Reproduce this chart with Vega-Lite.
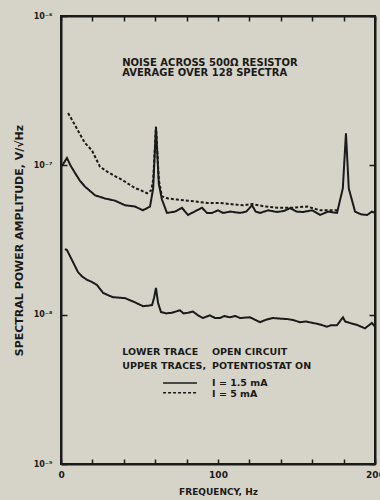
{
  "$schema": "https://vega.github.io/schema/vega-lite/v6.json",
  "width": 314,
  "height": 448,
  "autosize": {"type": "none"},
  "padding": {"left": 61, "top": 16, "right": 5, "bottom": 36},
  "background": "#d6d4c8",
  "config": {
    "view": {"stroke": "#1a1a1a", "strokeWidth": 2},
    "font": "DejaVu Sans",
    "axis": {"domainColor": "#1a1a1a", "domainWidth": 2, "tickColor": "#1a1a1a", "tickWidth": 1.5, "labelColor": "#1a1a1a", "titleColor": "#1a1a1a", "labelFont": "DejaVu Sans", "titleFont": "DejaVu Sans", "labelFontWeight": "bold", "titleFontWeight": "bold", "grid": false}
  },
  "datasets": {
    "traces": [
      {"f": 0.6, "v": 9.9e-8, "trace": "I=1.5 mA"},
      {"f": 3.8, "v": 1.12e-7, "trace": "I=1.5 mA"},
      {"f": 6, "v": 1.0e-7, "trace": "I=1.5 mA"},
      {"f": 8.9, "v": 8.9e-8, "trace": "I=1.5 mA"},
      {"f": 12, "v": 7.9e-8, "trace": "I=1.5 mA"},
      {"f": 15.3, "v": 7.2e-8, "trace": "I=1.5 mA"},
      {"f": 21.7, "v": 6.3e-8, "trace": "I=1.5 mA"},
      {"f": 28, "v": 6.0e-8, "trace": "I=1.5 mA"},
      {"f": 34.4, "v": 5.8e-8, "trace": "I=1.5 mA"},
      {"f": 40.8, "v": 5.4e-8, "trace": "I=1.5 mA"},
      {"f": 47.1, "v": 5.3e-8, "trace": "I=1.5 mA"},
      {"f": 52.2, "v": 5.0e-8, "trace": "I=1.5 mA"},
      {"f": 56.7, "v": 5.3e-8, "trace": "I=1.5 mA"},
      {"f": 58.7, "v": 7.0e-8, "trace": "I=1.5 mA"},
      {"f": 60.5, "v": 1.81e-7, "trace": "I=1.5 mA"},
      {"f": 62.3, "v": 7.5e-8, "trace": "I=1.5 mA"},
      {"f": 64.3, "v": 5.9e-8, "trace": "I=1.5 mA"},
      {"f": 67.5, "v": 4.8e-8, "trace": "I=1.5 mA"},
      {"f": 72.6, "v": 4.9e-8, "trace": "I=1.5 mA"},
      {"f": 77, "v": 5.2e-8, "trace": "I=1.5 mA"},
      {"f": 80.9, "v": 4.65e-8, "trace": "I=1.5 mA"},
      {"f": 85, "v": 4.9e-8, "trace": "I=1.5 mA"},
      {"f": 89.8, "v": 5.2e-8, "trace": "I=1.5 mA"},
      {"f": 93, "v": 4.8e-8, "trace": "I=1.5 mA"},
      {"f": 96.2, "v": 4.8e-8, "trace": "I=1.5 mA"},
      {"f": 100, "v": 5.0e-8, "trace": "I=1.5 mA"},
      {"f": 103.2, "v": 4.8e-8, "trace": "I=1.5 mA"},
      {"f": 108, "v": 4.9e-8, "trace": "I=1.5 mA"},
      {"f": 114, "v": 4.8e-8, "trace": "I=1.5 mA"},
      {"f": 118, "v": 4.9e-8, "trace": "I=1.5 mA"},
      {"f": 121.7, "v": 5.4e-8, "trace": "I=1.5 mA"},
      {"f": 124, "v": 4.9e-8, "trace": "I=1.5 mA"},
      {"f": 126.8, "v": 4.8e-8, "trace": "I=1.5 mA"},
      {"f": 132, "v": 5.0e-8, "trace": "I=1.5 mA"},
      {"f": 137.6, "v": 4.87e-8, "trace": "I=1.5 mA"},
      {"f": 142, "v": 4.95e-8, "trace": "I=1.5 mA"},
      {"f": 145.9, "v": 5.17e-8, "trace": "I=1.5 mA"},
      {"f": 150, "v": 4.9e-8, "trace": "I=1.5 mA"},
      {"f": 154.1, "v": 4.87e-8, "trace": "I=1.5 mA"},
      {"f": 160, "v": 5.0e-8, "trace": "I=1.5 mA"},
      {"f": 165, "v": 4.65e-8, "trace": "I=1.5 mA"},
      {"f": 170, "v": 4.9e-8, "trace": "I=1.5 mA"},
      {"f": 175.8, "v": 4.8e-8, "trace": "I=1.5 mA"},
      {"f": 179.5, "v": 7.0e-8, "trace": "I=1.5 mA"},
      {"f": 181.5, "v": 1.64e-7, "trace": "I=1.5 mA"},
      {"f": 183.3, "v": 7.0e-8, "trace": "I=1.5 mA"},
      {"f": 187.3, "v": 4.9e-8, "trace": "I=1.5 mA"},
      {"f": 191, "v": 4.7e-8, "trace": "I=1.5 mA"},
      {"f": 195, "v": 4.65e-8, "trace": "I=1.5 mA"},
      {"f": 198, "v": 4.9e-8, "trace": "I=1.5 mA"},
      {"f": 200, "v": 4.8e-8, "trace": "I=1.5 mA"},

      {"f": 4.5, "v": 2.24e-7, "trace": "I=5 mA"},
      {"f": 8.9, "v": 1.86e-7, "trace": "I=5 mA"},
      {"f": 12, "v": 1.62e-7, "trace": "I=5 mA"},
      {"f": 15.3, "v": 1.41e-7, "trace": "I=5 mA"},
      {"f": 19.7, "v": 1.26e-7, "trace": "I=5 mA"},
      {"f": 24.8, "v": 9.8e-8, "trace": "I=5 mA"},
      {"f": 29.9, "v": 9.0e-8, "trace": "I=5 mA"},
      {"f": 34, "v": 8.5e-8, "trace": "I=5 mA"},
      {"f": 38.9, "v": 8.0e-8, "trace": "I=5 mA"},
      {"f": 43, "v": 7.5e-8, "trace": "I=5 mA"},
      {"f": 47.1, "v": 7.05e-8, "trace": "I=5 mA"},
      {"f": 51, "v": 6.8e-8, "trace": "I=5 mA"},
      {"f": 54.8, "v": 6.5e-8, "trace": "I=5 mA"},
      {"f": 57.5, "v": 6.8e-8, "trace": "I=5 mA"},
      {"f": 58.7, "v": 8.0e-8, "trace": "I=5 mA"},
      {"f": 60.5, "v": 1.81e-7, "trace": "I=5 mA"},
      {"f": 62.3, "v": 8.0e-8, "trace": "I=5 mA"},
      {"f": 64.3, "v": 6.2e-8, "trace": "I=5 mA"},
      {"f": 68.2, "v": 6.0e-8, "trace": "I=5 mA"},
      {"f": 74, "v": 5.9e-8, "trace": "I=5 mA"},
      {"f": 80.9, "v": 5.8e-8, "trace": "I=5 mA"},
      {"f": 87, "v": 5.7e-8, "trace": "I=5 mA"},
      {"f": 93.6, "v": 5.6e-8, "trace": "I=5 mA"},
      {"f": 101.3, "v": 5.6e-8, "trace": "I=5 mA"},
      {"f": 108, "v": 5.5e-8, "trace": "I=5 mA"},
      {"f": 115.9, "v": 5.4e-8, "trace": "I=5 mA"},
      {"f": 122, "v": 5.5e-8, "trace": "I=5 mA"},
      {"f": 130, "v": 5.3e-8, "trace": "I=5 mA"},
      {"f": 137.6, "v": 5.2e-8, "trace": "I=5 mA"},
      {"f": 147, "v": 5.2e-8, "trace": "I=5 mA"},
      {"f": 156.7, "v": 5.3e-8, "trace": "I=5 mA"},
      {"f": 165, "v": 5.0e-8, "trace": "I=5 mA"},
      {"f": 172, "v": 5.0e-8, "trace": "I=5 mA"},
      {"f": 177, "v": 5.0e-8, "trace": "I=5 mA"},

      {"f": 2.5, "v": 2.75e-8, "trace": "lower"},
      {"f": 3.8, "v": 2.71e-8, "trace": "lower"},
      {"f": 7.0, "v": 2.32e-8, "trace": "lower"},
      {"f": 10.8, "v": 1.93e-8, "trace": "lower"},
      {"f": 13.5, "v": 1.8e-8, "trace": "lower"},
      {"f": 16.6, "v": 1.71e-8, "trace": "lower"},
      {"f": 19.5, "v": 1.66e-8, "trace": "lower"},
      {"f": 22.9, "v": 1.58e-8, "trace": "lower"},
      {"f": 26.8, "v": 1.40e-8, "trace": "lower"},
      {"f": 30, "v": 1.35e-8, "trace": "lower"},
      {"f": 33.1, "v": 1.31e-8, "trace": "lower"},
      {"f": 40.8, "v": 1.29e-8, "trace": "lower"},
      {"f": 47.1, "v": 1.21e-8, "trace": "lower"},
      {"f": 52.2, "v": 1.14e-8, "trace": "lower"},
      {"f": 56, "v": 1.15e-8, "trace": "lower"},
      {"f": 58, "v": 1.16e-8, "trace": "lower"},
      {"f": 59.3, "v": 1.3e-8, "trace": "lower"},
      {"f": 60.5, "v": 1.51e-8, "trace": "lower"},
      {"f": 61.8, "v": 1.2e-8, "trace": "lower"},
      {"f": 63.7, "v": 1.04e-8, "trace": "lower"},
      {"f": 67, "v": 1.02e-8, "trace": "lower"},
      {"f": 70.7, "v": 1.03e-8, "trace": "lower"},
      {"f": 75.8, "v": 1.07e-8, "trace": "lower"},
      {"f": 78, "v": 1.02e-8, "trace": "lower"},
      {"f": 80.9, "v": 1.03e-8, "trace": "lower"},
      {"f": 84, "v": 1.05e-8, "trace": "lower"},
      {"f": 87.3, "v": 9.9e-9, "trace": "lower"},
      {"f": 90.4, "v": 9.5e-9, "trace": "lower"},
      {"f": 94.9, "v": 9.9e-9, "trace": "lower"},
      {"f": 98, "v": 9.5e-9, "trace": "lower"},
      {"f": 101.3, "v": 9.5e-9, "trace": "lower"},
      {"f": 104, "v": 9.8e-9, "trace": "lower"},
      {"f": 107.6, "v": 9.6e-9, "trace": "lower"},
      {"f": 111, "v": 9.8e-9, "trace": "lower"},
      {"f": 114, "v": 9.5e-9, "trace": "lower"},
      {"f": 120.4, "v": 9.6e-9, "trace": "lower"},
      {"f": 126.8, "v": 8.9e-9, "trace": "lower"},
      {"f": 130, "v": 9.2e-9, "trace": "lower"},
      {"f": 135, "v": 9.5e-9, "trace": "lower"},
      {"f": 140, "v": 9.4e-9, "trace": "lower"},
      {"f": 144, "v": 9.35e-9, "trace": "lower"},
      {"f": 148, "v": 9.2e-9, "trace": "lower"},
      {"f": 152.2, "v": 8.9e-9, "trace": "lower"},
      {"f": 156, "v": 9.0e-9, "trace": "lower"},
      {"f": 160.5, "v": 8.8e-9, "trace": "lower"},
      {"f": 165, "v": 8.6e-9, "trace": "lower"},
      {"f": 169.4, "v": 8.3e-9, "trace": "lower"},
      {"f": 172, "v": 8.5e-9, "trace": "lower"},
      {"f": 175.8, "v": 8.5e-9, "trace": "lower"},
      {"f": 179.6, "v": 9.6e-9, "trace": "lower"},
      {"f": 181, "v": 9.0e-9, "trace": "lower"},
      {"f": 184, "v": 8.8e-9, "trace": "lower"},
      {"f": 189, "v": 8.5e-9, "trace": "lower"},
      {"f": 193.6, "v": 8.1e-9, "trace": "lower"},
      {"f": 198, "v": 8.8e-9, "trace": "lower"},
      {"f": 200, "v": 8.3e-9, "trace": "lower"}
    ],
    "keys": [
      {"f1": 65, "f2": 86.6, "v": 3.48e-9, "trace": "I=1.5 mA"},
      {"f1": 65, "f2": 86.6, "v": 3.0e-9, "trace": "I=5 mA"}
    ],
    "notes": [
      {"f": 39, "v": 4.85e-7, "label": "NOISE ACROSS 500Ω RESISTOR", "size": "big"},
      {"f": 39, "v": 4.15e-7, "label": "AVERAGE OVER 128 SPECTRA", "size": "big"},
      {"f": 39, "v": 5.62e-9, "label": "LOWER TRACE", "size": "small"},
      {"f": 96.2, "v": 5.62e-9, "label": "OPEN CIRCUIT", "size": "small"},
      {"f": 39, "v": 4.53e-9, "label": "UPPER TRACES,", "size": "small"},
      {"f": 96.2, "v": 4.53e-9, "label": "POTENTIOSTAT ON", "size": "small"},
      {"f": 96.2, "v": 3.48e-9, "label": "I = 1.5 mA", "size": "small"},
      {"f": 96.2, "v": 2.94e-9, "label": "I = 5 mA", "size": "small"}
    ]
  },
  "resolve": {"axis": {"x": "independent", "y": "independent"}},
  "layer": [
    {
      "data": {"name": "traces"},
      "mark": {"type": "line", "color": "#1a1a1a", "strokeWidth": 2},
      "encoding": {
        "x": {
          "field": "f", "type": "quantitative",
          "scale": {"domain": [0, 200], "nice": false, "zero": false},
          "axis": {
            "orient": "bottom",
            "values": [0, 20, 40, 60, 80, 100, 120, 140, 160, 180, 200],
            "labelExpr": "datum.value % 100 == 0 ? datum.label : ''",
            "tickSize": -5, "labelPadding": 11, "labelFontSize": 9,
            "labelFlush": false,
            "title": "FREQUENCY, Hz", "titleFontSize": 9, "titlePadding": 8
          }
        },
        "y": {
          "field": "v", "type": "quantitative",
          "scale": {"type": "log", "domain": [1e-9, 1e-6], "nice": false},
          "axis": {
            "orient": "left",
            "values": [1e-9, 1e-8, 1e-7, 1e-6],
            "labelExpr": "datum.value < 5e-9 ? '10⁻⁹' : datum.value < 5e-8 ? '10⁻⁸' : datum.value < 5e-7 ? '10⁻⁷' : '10⁻⁶'",
            "tickSize": -6, "labelPadding": 15, "labelFontSize": 8,
            "title": "SPECTRAL POWER AMPLITUDE, V/√Hz", "titleFontSize": 11, "titlePadding": 9
          }
        },
        "detail": {"field": "trace"},
        "strokeDash": {
          "field": "trace", "type": "nominal",
          "scale": {"domain": ["lower", "I=1.5 mA", "I=5 mA"], "range": [[1, 0], [1, 0], [3, 2]]},
          "legend": null
        }
      }
    },
    {
      "data": {"name": "keys"},
      "mark": {"type": "rule", "color": "#1a1a1a", "strokeWidth": 1.5},
      "encoding": {
        "x": {"field": "f1", "type": "quantitative", "axis": null},
        "x2": {"field": "f2"},
        "y": {"field": "v", "type": "quantitative", "axis": null},
        "strokeDash": {
          "field": "trace", "type": "nominal",
          "scale": {"domain": ["lower", "I=1.5 mA", "I=5 mA"], "range": [[1, 0], [1, 0], [3, 2]]},
          "legend": null
        }
      }
    },
    {
      "data": {"name": "notes"},
      "mark": {"type": "text", "align": "left", "baseline": "middle", "font": "DejaVu Sans", "fontWeight": "bold", "color": "#1a1a1a"},
      "encoding": {
        "x": {
          "field": "f", "type": "quantitative",
          "axis": {"orient": "top", "values": [0, 20, 40, 60, 80, 100, 120, 140, 160, 180, 200], "labels": false, "tickSize": -5, "title": null}
        },
        "y": {
          "field": "v", "type": "quantitative",
          "axis": {"orient": "right", "values": [1e-9, 1e-8, 1e-7, 1e-6], "labels": false, "tickSize": -6, "title": null}
        },
        "size": {
          "field": "size", "type": "nominal",
          "scale": {"domain": ["big", "small"], "range": [10, 9.5]},
          "legend": null
        },
        "text": {"field": "label"}
      }
    }
  ]
}
